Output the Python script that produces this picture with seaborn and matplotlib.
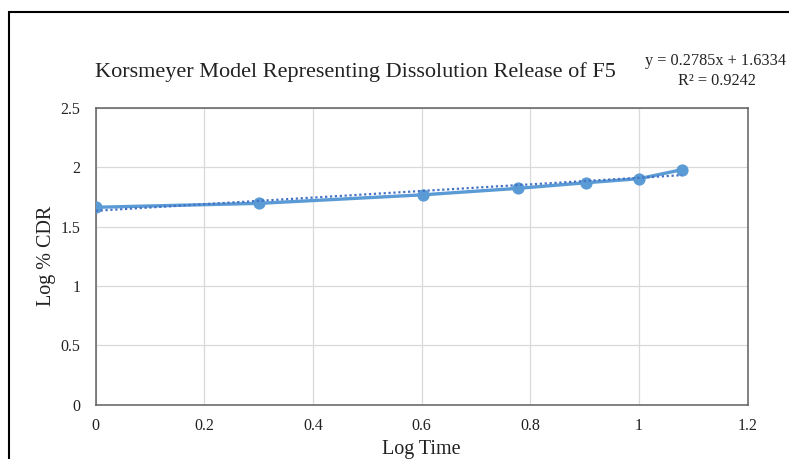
import numpy as np
import pandas as pd
import matplotlib
matplotlib.use("Agg")
import matplotlib.pyplot as plt
import seaborn as sns
from matplotlib.patches import Rectangle

log_time = [0.0, 0.301, 0.602, 0.778, 0.903, 1.0, 1.079]
log_cdr = [1.663, 1.696, 1.768, 1.823, 1.870, 1.904, 1.980]
trend_slope = 0.2785
trend_intercept = 1.6334
trend_text = "y = 0.2785x + 1.6334"
r2_text = "R² = 0.9242"
title = "Korsmeyer Model Representing Dissolution Release of F5"
x_ticks = [0, 0.2, 0.4, 0.6, 0.8, 1, 1.2]
x_tick_labels = ["0", "0.2", "0.4", "0.6", "0.8", "1", "1.2"]
y_ticks = [0, 0.5, 1, 1.5, 2, 2.5]
y_tick_labels = ["0", "0.5", "1", "1.5", "2", "2.5"]

sns.set_style("white")
plt.rcParams["font.family"] = ["Liberation Serif", "DejaVu Serif"]

fig = plt.figure(figsize=(7.89, 4.59), dpi=100)
ax = fig.add_axes([0.1213, 0.1187, 0.9477 - 0.1213, 0.7647 - 0.1187])

df = pd.DataFrame({"x": log_time, "y": log_cdr})
sns.lineplot(data=df, x="x", y="y", ax=ax, color="#5B9BD5", linewidth=2.4,
             marker="o", markersize=8.8, markeredgewidth=0, zorder=3)

tx = np.array([log_time[0], log_time[-1]])
ty = trend_slope * tx + trend_intercept
sns.lineplot(x=tx, y=ty, ax=ax, color="#4472C4", linewidth=1.6,
             linestyle=(0, (1, 1.2)), zorder=4)

ax.set_xlim(0, 1.2)
ax.set_ylim(0, 2.5)
ax.set_xticks(x_ticks)
ax.set_xticklabels(x_tick_labels)
ax.set_yticks(y_ticks)
ax.set_yticklabels(y_tick_labels)
ax.grid(True, color="#d9d9d9", linewidth=0.9)
ax.set_axisbelow(True)
for s in ax.spines.values():
    s.set_visible(True)
    s.set_color("#5f5f5f")
    s.set_linewidth(1.1)
ax.tick_params(axis="both", length=0, labelsize=11.5, colors="#222222")
ax.tick_params(axis="x", pad=10)
ax.tick_params(axis="y", pad=11)
ax.set_xlabel("Log Time", fontsize=14.5, labelpad=4, color="#222222")
ax.set_ylabel("Log % CDR", fontsize=14.5, labelpad=3, color="#222222")

fig.text(355 / 789, 1 - 72 / 459, title, fontsize=16, ha="center",
         va="center", color="#222222")
fig.text(786 / 789, 1 - 61 / 459, trend_text, fontsize=11.7, ha="right",
         va="center", color="#222222")
fig.text(717 / 789, 1 - 81 / 459, r2_text, fontsize=11.7, ha="center",
         va="center", color="#222222")

fig.patches.append(Rectangle((8.5 / 789, -0.1), 1.2, (1 - 12 / 459) + 0.1,
                             transform=fig.transFigure, fill=False,
                             edgecolor="black", linewidth=1.5))

fig.savefig("out.png", dpi=100)
